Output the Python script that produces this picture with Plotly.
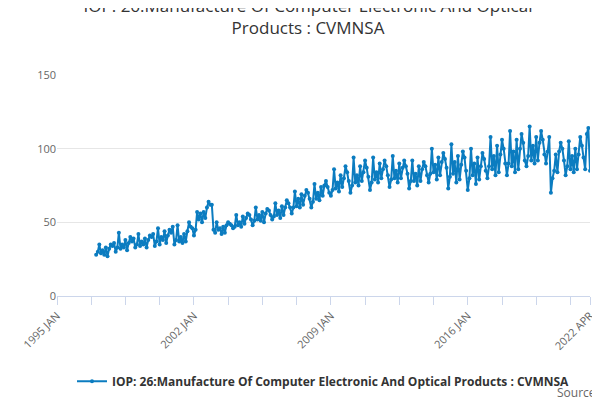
import plotly.graph_objects as go
import pandas as pd

dates = pd.date_range("1997-01-01", "2022-04-01", freq="MS")
y1997 = [28, 30, 35, 29, 31, 28, 33, 27, 32, 35, 34, 36]
y1998 = [30, 33, 43, 32, 35, 33, 38, 31, 36, 40, 37, 39]
y1999 = [33, 35, 42, 34, 37, 35, 39, 33, 38, 41, 40, 42]
y2000 = [34, 37, 46, 35, 40, 38, 44, 36, 41, 45, 43, 47]
y2001 = [35, 38, 48, 37, 40, 36, 42, 37, 44, 50, 47, 46]
y2002 = [41, 45, 57, 52, 56, 50, 57, 53, 60, 64, 62, 62]
y2003 = [45, 43, 50, 45, 46, 42, 47, 43, 48, 50, 49, 48]
y2004 = [46, 47, 55, 48, 50, 47, 54, 49, 53, 56, 55, 52]
y2005 = [48, 51, 60, 52, 55, 51, 57, 50, 56, 59, 58, 55]
y2006 = [52, 54, 63, 55, 58, 53, 61, 55, 60, 65, 63, 60]
y2007 = [56, 60, 71, 61, 66, 60, 69, 62, 68, 72, 70, 66]
y2008 = [60, 64, 76, 66, 70, 65, 74, 68, 75, 78, 74, 70]
y2009 = [68, 72, 86, 73, 77, 71, 82, 74, 80, 88, 84, 78]
y2010 = [70, 75, 94, 77, 82, 75, 88, 78, 84, 92, 87, 81]
y2011 = [72, 77, 94, 79, 84, 77, 90, 80, 86, 92, 88, 82]
y2012 = [74, 79, 95, 80, 85, 77, 90, 80, 87, 92, 88, 83]
y2013 = [73, 78, 92, 78, 83, 75, 88, 78, 86, 91, 88, 82]
y2014 = [77, 83, 100, 84, 89, 79, 94, 82, 91, 97, 93, 87]
y2015 = [73, 81, 103, 83, 91, 77, 95, 79, 89, 98, 94, 85]
y2016 = [72, 80, 100, 82, 90, 76, 94, 79, 88, 97, 93, 85]
y2017 = [80, 88, 108, 86, 95, 82, 102, 84, 96, 106, 100, 90]
y2018 = [82, 90, 112, 88, 98, 84, 106, 86, 100, 110, 104, 92]
y2019 = [88, 95, 115, 92, 102, 90, 108, 92, 104, 112, 106, 96]
y2020 = [90, 98, 108, 70, 80, 85, 96, 84, 98, 104, 100, 92]
y2021 = [82, 88, 105, 86, 95, 84, 100, 86, 96, 108, 102, 94]
y2022 = [86, 110, 114, 85]

values = (y1997 + y1998 + y1999 + y2000 + y2001 + y2002 + y2003 + y2004 + y2005
          + y2006 + y2007 + y2008 + y2009 + y2010 + y2011 + y2012 + y2013 + y2014
          + y2015 + y2016 + y2017 + y2018 + y2019 + y2020 + y2021 + y2022)

tick_dates = list(pd.date_range("1995-01-01", "2021-04-01", freq="21MS")) + [pd.Timestamp("2022-04-01")]
label_map = {"1995-01": "1995 JAN", "2002-01": "2002 JAN", "2009-01": "2009 JAN",
             "2016-01": "2016 JAN", "2022-04": "2022 APR"}
tick_text = [label_map.get(d.strftime("%Y-%m"), "") for d in tick_dates]

name = "IOP: 26:Manufacture Of Computer Electronic And Optical Products : CVMNSA"
fig = go.Figure(go.Scatter(x=dates, y=values, mode="lines+markers", name=name,
                           line=dict(color="#0b7cc0", width=2),
                           marker=dict(size=4, color="#0b7cc0")))
fig.update_layout(
    width=600, height=400, margin=dict(l=47, r=18, t=67, b=107),
    paper_bgcolor="white", plot_bgcolor="white",
    font=dict(family="Open Sans", color="#555"),
    title=dict(text="IOP: 26:Manufacture Of Computer Electronic And Optical<br>Products : CVMNSA",
               x=0.5, xanchor="center", y=0.99, yanchor="top", yref="container",
               font=dict(size=17, color="#333")),
    showlegend=True,
    legend=dict(orientation="h", x=0.5, xanchor="center", y=-0.32, yanchor="top",
                font=dict(size=12, color="#333", weight="bold")),
    xaxis=dict(range=[pd.Timestamp("1995-01-01"), pd.Timestamp("2022-04-01")],
               tickvals=tick_dates, ticktext=tick_text, tickangle=-45,
               showgrid=False, ticks="outside", ticklen=8, tickcolor="#ccd6eb",
               showline=True, linecolor="#ccd6eb", tickfont=dict(size=11, color="#666")),
    yaxis=dict(range=[0, 150], tickvals=[0, 50, 100, 150], gridcolor="#e6e6e6",
               zeroline=False, tickfont=dict(size=11, color="#666")),
    annotations=[dict(text="Source:", xref="paper", yref="paper", x=1.02, y=-0.39,
                      xanchor="right", yanchor="top", showarrow=False,
                      font=dict(size=12, color="#666"))],
)
fig.write_html("out.html")
